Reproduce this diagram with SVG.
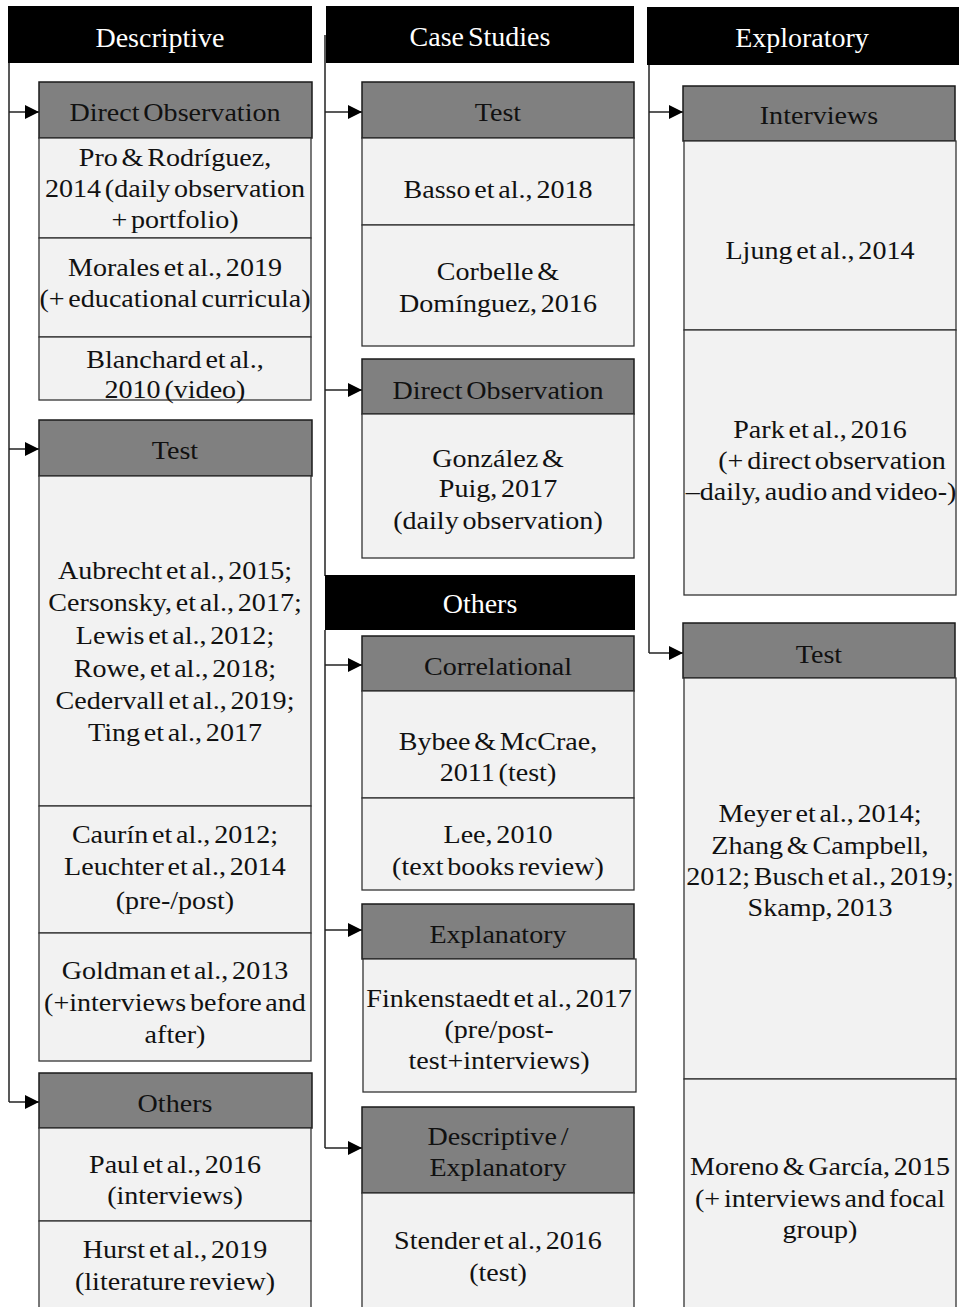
<svg xmlns="http://www.w3.org/2000/svg" width="959" height="1307" viewBox="0 0 959 1307">
<style>
.hd{fill:#000}
.ht{font-family:"Liberation Serif","Times New Roman",serif;font-size:28px;fill:#fff;text-anchor:middle;word-spacing:-3px}
.sub{fill:#808080;stroke:#1a1a1a;stroke-width:1.5}
.cell{fill:#f2f2f2;stroke:#333;stroke-width:1.3}
.t{font-family:"Liberation Serif","Times New Roman",serif;font-size:26px;fill:#111;text-anchor:middle;word-spacing:-3px;transform-box:fill-box;transform-origin:center;transform:scaleX(1.08)}
.ln{fill:none;stroke:#222;stroke-width:1.5}
</style>
<defs>
<marker id="ah" viewBox="0 0 10 10" refX="10" refY="5" markerWidth="15" markerHeight="14" markerUnits="userSpaceOnUse" orient="auto">
<path d="M0,0 L10,5 L0,10 z" fill="#000"/>
</marker>
</defs>
<rect width="959" height="1307" fill="#fff"/>

<g id="connectors">
<path class="ln" d="M9,63 V1102"/>
<path class="ln" d="M9,112 H39" marker-end="url(#ah)"/>
<path class="ln" d="M9,449 H39" marker-end="url(#ah)"/>
<path class="ln" d="M9,1102 H39" marker-end="url(#ah)"/>
<path class="ln" d="M325,35 V576"/>
<path class="ln" d="M325,112 H362" marker-end="url(#ah)"/>
<path class="ln" d="M325,390 H362" marker-end="url(#ah)"/>
<path class="ln" d="M325,630 V1148"/>
<path class="ln" d="M325,665 H362" marker-end="url(#ah)"/>
<path class="ln" d="M325,930 H362" marker-end="url(#ah)"/>
<path class="ln" d="M325,1148 H362" marker-end="url(#ah)"/>
<path class="ln" d="M649,65 V653"/>
<path class="ln" d="M649,112 H683" marker-end="url(#ah)"/>
<path class="ln" d="M649,653 H683" marker-end="url(#ah)"/>
</g>

<!-- Column 1 -->
<g id="descriptive">
<rect class="hd" x="8" y="6" width="304" height="57"/>
<text class="ht" x="160" y="47">Descriptive</text>
</g>
<g id="d-direct-observation">
<rect class="sub" x="39" y="82" width="273" height="56"/>
<text class="t" x="175" y="121">Direct Observation</text>
</g>
<g id="d-pro">
<rect class="cell" x="39" y="138" width="272" height="100"/>
<text class="t" x="175" y="166">Pro &amp; Rodríguez,</text>
<text class="t" x="175" y="197">2014 (daily observation</text>
<text class="t" x="175" y="228">+ portfolio)</text>
</g>
<g id="d-morales">
<rect class="cell" x="39" y="238" width="272" height="99"/>
<text class="t" x="175" y="276">Morales et al., 2019</text>
<text class="t" x="175" y="307">(+ educational curricula)</text>
</g>
<g id="d-blanchard">
<rect class="cell" x="39" y="337" width="272" height="63"/>
<text class="t" x="175" y="368">Blanchard et al.,</text>
<text class="t" x="175" y="398">2010 (video)</text>
</g>
<g id="d-test">
<rect class="sub" x="39" y="420" width="273" height="56"/>
<text class="t" x="175" y="459">Test</text>
</g>
<g id="d-aubrecht">
<rect class="cell" x="39" y="476" width="272" height="330"/>
<text class="t" x="175" y="579">Aubrecht et al., 2015;</text>
<text class="t" x="175" y="611">Cersonsky, et al., 2017;</text>
<text class="t" x="175" y="644">Lewis et al., 2012;</text>
<text class="t" x="175" y="677">Rowe, et al., 2018;</text>
<text class="t" x="175" y="709">Cedervall et al., 2019;</text>
<text class="t" x="175" y="741">Ting et al., 2017</text>
</g>
<g id="d-caurin">
<rect class="cell" x="39" y="806" width="272" height="127"/>
<text class="t" x="175" y="843">Caurín et al., 2012;</text>
<text class="t" x="175" y="875">Leuchter et al., 2014</text>
<text class="t" x="175" y="909">(pre-/post)</text>
</g>
<g id="d-goldman">
<rect class="cell" x="39" y="933" width="272" height="128"/>
<text class="t" x="175" y="979">Goldman et al., 2013</text>
<text class="t" x="175" y="1011">(+interviews before and</text>
<text class="t" x="175" y="1043">after)</text>
</g>
<g id="d-others">
<rect class="sub" x="39" y="1073" width="273" height="55"/>
<text class="t" x="175" y="1112">Others</text>
</g>
<g id="d-paul">
<rect class="cell" x="39" y="1128" width="272" height="93"/>
<text class="t" x="175" y="1173">Paul et al., 2016</text>
<text class="t" x="175" y="1204">(interviews)</text>
</g>
<g id="d-hurst">
<rect class="cell" x="39" y="1221" width="272" height="100"/>
<text class="t" x="175" y="1258">Hurst et al., 2019</text>
<text class="t" x="175" y="1290">(literature review)</text>
</g>

<!-- Column 2 -->
<g id="case-studies">
<rect class="hd" x="326" y="6" width="308" height="57"/>
<text class="ht" x="480" y="46">Case Studies</text>
</g>
<g id="c-test">
<rect class="sub" x="362" y="82" width="272" height="56"/>
<text class="t" x="498" y="121">Test</text>
</g>
<g id="c-basso">
<rect class="cell" x="362" y="138" width="272" height="87"/>
<text class="t" x="498" y="198">Basso et al., 2018</text>
</g>
<g id="c-corbelle">
<rect class="cell" x="362" y="225" width="272" height="121"/>
<text class="t" x="498" y="280">Corbelle &amp;</text>
<text class="t" x="498" y="312">Domínguez, 2016</text>
</g>
<g id="c-direct-observation">
<rect class="sub" x="362" y="359" width="272" height="55"/>
<text class="t" x="498" y="399">Direct Observation</text>
</g>
<g id="c-gonzalez">
<rect class="cell" x="362" y="414" width="272" height="144"/>
<text class="t" x="498" y="467">González &amp;</text>
<text class="t" x="498" y="497">Puig, 2017</text>
<text class="t" x="498" y="529">(daily observation)</text>
</g>
<g id="others">
<rect class="hd" x="325" y="575" width="310" height="55"/>
<text class="ht" x="480" y="613">Others</text>
</g>
<g id="o-correlational">
<rect class="sub" x="362" y="636" width="272" height="55"/>
<text class="t" x="498" y="675">Correlational</text>
</g>
<g id="o-bybee">
<rect class="cell" x="362" y="691" width="272" height="107"/>
<text class="t" x="498" y="750">Bybee &amp; McCrae,</text>
<text class="t" x="498" y="781">2011 (test)</text>
</g>
<g id="o-lee">
<rect class="cell" x="362" y="798" width="272" height="92"/>
<text class="t" x="498" y="843">Lee, 2010</text>
<text class="t" x="498" y="875">(text books review)</text>
</g>
<g id="o-explanatory">
<rect class="sub" x="362" y="904" width="272" height="55"/>
<text class="t" x="498" y="943">Explanatory</text>
</g>
<g id="o-finkenstaedt">
<rect class="cell" x="363" y="959" width="273" height="133"/>
<text class="t" x="499" y="1007">Finkenstaedt et al., 2017</text>
<text class="t" x="499" y="1038">(pre/post-</text>
<text class="t" x="499" y="1069">test+interviews)</text>
</g>
<g id="o-descriptive-explanatory">
<rect class="sub" x="362" y="1107" width="272" height="86"/>
<text class="t" x="498" y="1145">Descriptive /</text>
<text class="t" x="498" y="1176">Explanatory</text>
</g>
<g id="o-stender">
<rect class="cell" x="362" y="1193" width="272" height="130"/>
<text class="t" x="498" y="1249">Stender et al., 2016</text>
<text class="t" x="498" y="1281">(test)</text>
</g>

<!-- Column 3 -->
<g id="exploratory">
<rect class="hd" x="647" y="7" width="315" height="58"/>
<text class="ht" x="802" y="47">Exploratory</text>
</g>
<g id="e-interviews">
<rect class="sub" x="683" y="86" width="272" height="55"/>
<text class="t" x="819" y="124">Interviews</text>
</g>
<g id="e-ljung">
<rect class="cell" x="684" y="141" width="272" height="189"/>
<text class="t" x="820" y="259">Ljung et al., 2014</text>
</g>
<g id="e-park">
<rect class="cell" x="684" y="330" width="272" height="265"/>
<text class="t" x="820" y="438">Park et al., 2016</text>
<text class="t" x="832" y="469">(+ direct observation</text>
<text class="t" x="821" y="500">–daily, audio and video-)</text>
</g>
<g id="e-test">
<rect class="sub" x="683" y="623" width="272" height="55"/>
<text class="t" x="819" y="663">Test</text>
</g>
<g id="e-meyer">
<rect class="cell" x="684" y="678" width="272" height="401"/>
<text class="t" x="820" y="822">Meyer et al., 2014;</text>
<text class="t" x="820" y="854">Zhang &amp; Campbell,</text>
<text class="t" x="820" y="885">2012; Busch et al., 2019;</text>
<text class="t" x="820" y="916">Skamp, 2013</text>
</g>
<g id="e-moreno">
<rect class="cell" x="684" y="1079" width="272" height="240"/>
<text class="t" x="820" y="1175">Moreno &amp; García, 2015</text>
<text class="t" x="820" y="1207">(+ interviews and focal</text>
<text class="t" x="820" y="1238">group)</text>
</g>
</svg>
